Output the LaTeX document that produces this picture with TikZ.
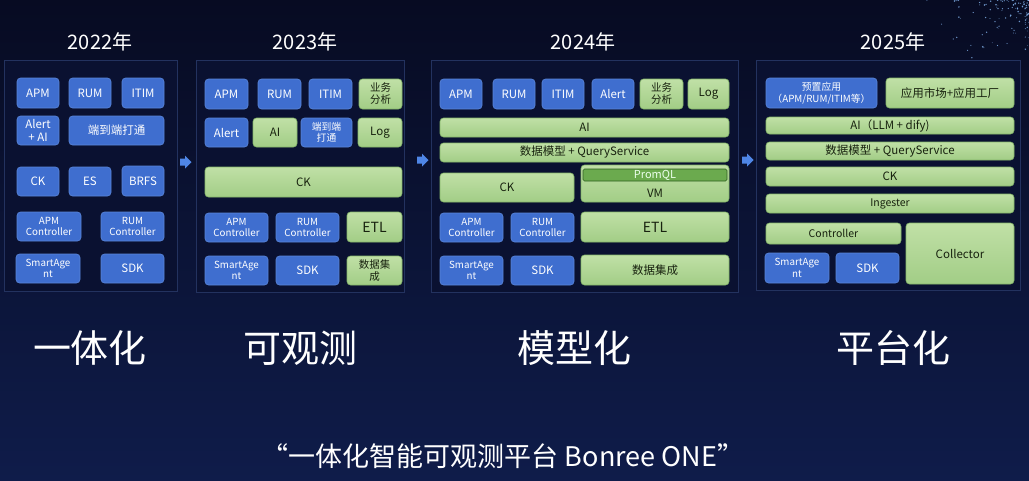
\documentclass[tikz,border=0pt]{standalone}
\usepackage{fontspec}
\setmainfont{Noto Sans CJK SC}
\definecolor{bgtop}{HTML}{070B22}
\definecolor{bgbot}{HTML}{0F1C4A}
\definecolor{panelline}{HTML}{23325F}
\definecolor{panelfill}{HTML}{0A1131}
\definecolor{boxblue}{HTML}{3F6ECF}
\definecolor{blueedge}{HTML}{5A86DA}
\definecolor{green1}{HTML}{C0E0A6}
\definecolor{green2}{HTML}{A2CD86}
\definecolor{greenedge}{HTML}{86B86A}
\definecolor{promql}{HTML}{6BAA4E}
\definecolor{promedge}{HTML}{2F5E20}
\definecolor{arrowblue}{HTML}{4F86E6}
\definecolor{gtext}{HTML}{18220F}
\newcommand\bx[7]{\node[#1, anchor=north west, minimum width={(#5-#3)*1pt}, minimum height={(#6-#4)*1pt}] (#2) at (#3,#4) {#7};}
\begin{document}
\begin{tikzpicture}[x=1pt,y=-1pt,
  panel/.style={draw=panelline, fill=panelfill, line width=0.8pt, inner sep=0pt, outer sep=0pt},
  boxbase/.style={rounded corners=3.5pt, align=center, inner sep=0pt, outer sep=0pt, line width=0.6pt},
  blu/.style={boxbase, draw=blueedge, fill=boxblue, text=white, font=\fontsize{11.5}{12.5}\selectfont},
  bluS/.style={blu, font=\fontsize{9.8}{11.5}\selectfont},
  grn/.style={boxbase, draw=greenedge, top color=green1, bottom color=green2, text=gtext, font=\fontsize{11.5}{12.5}\selectfont},
  grnS/.style={grn, font=\fontsize{10.5}{12}\selectfont},
  grnL/.style={grn, font=\fontsize{14}{15}\selectfont},
  prom/.style={boxbase, rounded corners=1.5pt, draw=promedge, fill=promql, text=white!92!green, font=\fontsize{11}{12}\selectfont},
  blockarrow/.pic={\fill[arrowblue] (0,-3.5) -- (5,-3.5) -- (5,-6.5) -- (11.5,0) -- (5,6.5) -- (5,3.5) -- (0,3.5) -- cycle;},
  year/.style={text=white, font=\fontsize{20}{22}\selectfont},
  big/.style={text=white, font=\fontsize{38}{40}\selectfont},
  slogan/.style={text=white, font=\fontsize{27}{30}\selectfont}
]
\useasboundingbox (0,0) rectangle (1029,480);
\fill[top color=bgtop, bottom color=bgbot] (0,0) rectangle (1029,480);
% star field
\pgfmathsetseed{11}
\foreach \i in {1,...,110}{
  \pgfmathsetmacro\sx{1029-110*rnd*rnd}
  \pgfmathsetmacro\sy{75*rnd*rnd}
  \pgfmathsetmacro\sr{0.35+0.6*rnd}
  \fill[white!70!blue!80!cyan, opacity=0.75] (\sx,\sy) circle[radius=\sr pt];
}
% years
\node[year] (y22) at (100,42) {2022年};
\node[year] (y23) at (305,42) {2023年};
\node[year] (y24) at (583,42) {2024年};
\node[year] (y25) at (893,42) {2025年};
% panels
\bx{panel}{p1}{4}{60}{177}{291}{}
\bx{panel}{p2}{196}{60}{404}{292}{}
\bx{panel}{p3}{431}{60}{738}{292}{}
\bx{panel}{p4}{756}{60}{1020}{290}{}
% arrows between panels
\coordinate (a12) at (180,162);
\coordinate (a23) at (417,160);
\coordinate (a34) at (742,160);
\pic at (a12) {blockarrow};
\pic at (a23) {blockarrow};
\pic at (a34) {blockarrow};
% panel 1
\bx{blu}{p1apm}{17}{78}{59}{108}{APM}
\bx{blu}{p1rum}{69}{78}{111}{108}{RUM}
\bx{blu}{p1itim}{122}{78}{164}{108}{ITIM}
\bx{blu}{p1alert}{17}{116}{59}{145}{Alert\\+ AI}
\bx{blu}{p1e2e}{69}{116}{164}{145}{端到端打通}
\bx{blu}{p1ck}{17}{167}{59}{196}{CK}
\bx{blu}{p1es}{69}{167}{111}{196}{ES}
\bx{blu}{p1brfs}{122}{166}{164}{196}{BRFS}
\bx{bluS}{p1apmc}{17}{212}{81}{241}{APM\\Controller}
\bx{bluS}{p1rumc}{101}{212}{164}{241}{RUM\\Controller}
\bx{bluS}{p1sa}{16}{254}{80}{283}{SmartAge\\nt}
\bx{blu}{p1sdk}{101}{254}{164}{283}{SDK}
% panel 2
\bx{blu}{p2apm}{205}{79}{248}{109}{APM}
\bx{blu}{p2rum}{258}{79}{301}{109}{RUM}
\bx{blu}{p2itim}{309}{79}{352}{109}{ITIM}
\bx{grnS}{p2biz}{359}{79}{402}{109}{业务\\分析}
\bx{blu}{p2alert}{205}{118}{248}{147}{Alert}
\bx{grn}{p2ai}{253}{118}{297}{147}{AI}
\bx{bluS}{p2e2e}{301}{118}{352}{147}{端到端\\打通}
\bx{grn}{p2log}{358}{118}{402}{147}{Log}
\bx{grn}{p2ck}{205}{167}{402}{197}{CK}
\bx{bluS}{p2apmc}{205}{213}{268}{242}{APM\\Controller}
\bx{bluS}{p2rumc}{276}{213}{339}{242}{RUM\\Controller}
\bx{grnL}{p2etl}{347}{212}{402}{242}{ETL}
\bx{bluS}{p2sa}{205}{256}{268}{285}{SmartAge\\nt}
\bx{blu}{p2sdk}{276}{256}{339}{285}{SDK}
\bx{grnS}{p2di}{347}{256}{402}{285}{数据集\\成}
% panel 3
\bx{blu}{p3apm}{440}{79}{482}{109}{APM}
\bx{blu}{p3rum}{493}{79}{535}{109}{RUM}
\bx{blu}{p3itim}{542}{79}{584}{109}{ITIM}
\bx{blu}{p3alert}{592}{79}{634}{109}{Alert}
\bx{grnS}{p3biz}{640}{79}{683}{109}{业务\\分析}
\bx{grn}{p3log}{688}{79}{729}{109}{Log}
\bx{grn}{p3ai}{440}{118}{729}{137}{AI}
\bx{grn}{p3dm}{440}{143}{729}{162}{数据模型 + QueryService}
\bx{grn}{p3ck}{440}{173}{574}{202}{CK}
\bx{grn}{p3vm}{581}{165}{729}{202}{}
\bx{prom}{p3prom}{583}{169}{727}{181}{PromQL}
\node[text=gtext, font=\fontsize{11.5}{12}\selectfont] (p3vmlbl) at (655,193) {VM};
\bx{bluS}{p3apmc}{440}{213}{503}{242}{APM\\Controller}
\bx{bluS}{p3rumc}{511}{213}{574}{242}{RUM\\Controller}
\bx{grnL}{p3etl}{581}{212}{729}{242}{ETL}
\bx{bluS}{p3sa}{440}{256}{503}{285}{SmartAge\\nt}
\bx{blu}{p3sdk}{511}{256}{574}{285}{SDK}
\bx{grn}{p3di}{581}{255}{729}{285}{数据集成}
% panel 4
\bx{bluS}{p4pre}{766}{78}{877}{108}{预置应用\\（APM/RUM/ITIM等）}
\bx{grn}{p4mkt}{886}{78}{1014}{108}{应用市场+应用工厂}
\bx{grn}{p4ai}{766}{117}{1014}{134}{AI（LLM + dify)}
\bx{grn}{p4dm}{766}{142}{1014}{160}{数据模型 + QueryService}
\bx{grn}{p4ck}{766}{167}{1014}{186}{CK}
\bx{grnS}{p4ing}{766}{194}{1014}{213}{Ingester}
\bx{grnS}{p4ctl}{766}{223}{901}{244}{Controller}
\bx{grn}{p4col}{906}{223}{1014}{284}{Collector}
\bx{bluS}{p4sa}{765}{253}{829}{283}{SmartAge\\nt}
\bx{blu}{p4sdk}{836}{253}{899}{283}{SDK}
% big labels
\node[big] (l1) at (90,348) {一体化};
\node[big] (l2) at (300,348) {可观测};
\node[big] (l3) at (574,348) {模型化};
\node[big] (l4) at (893,348) {平台化};
% slogan
\node[slogan] (sl) at (503,456) {“一体化智能可观测平台 Bonree ONE”};
\end{tikzpicture}
\end{document}
